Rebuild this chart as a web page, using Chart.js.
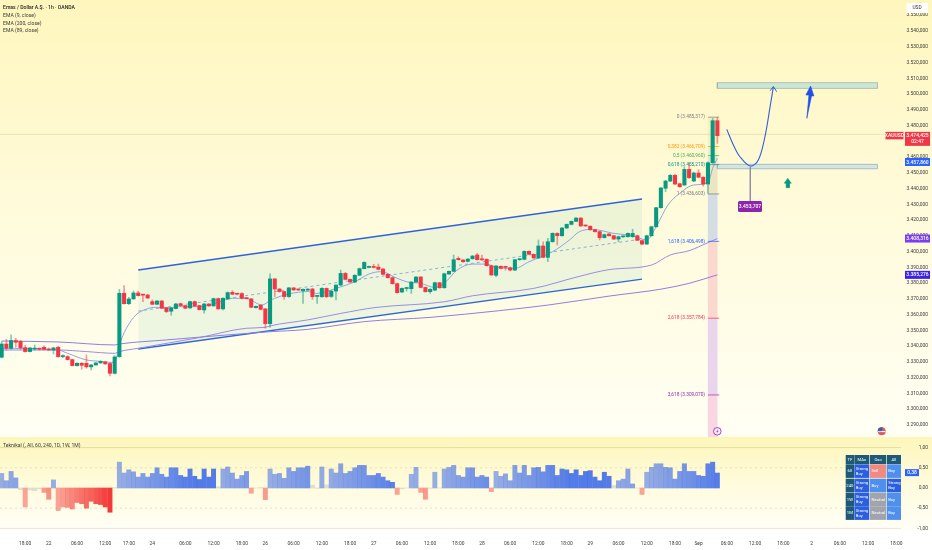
<!DOCTYPE html>
<html>
<head>
<meta charset="utf-8">
<title>Emas / Dollar</title>
<script src="https://cdn.jsdelivr.net/npm/chart.js@4"></script>
<style>
  html, body { margin: 0; padding: 0; background: #fff; }
  canvas { display: block; }
</style>
</head>
<body>
<canvas id="chart" width="932" height="550"></canvas>
<script>
// candles, one hour each
const opens = [
  3333, 3341.4, 3338.7, 3343.6, 3343.1, 3339.1, 3336.6, 3338.2, 3338.3, 3339.3,
  3338.2, 3337.6, 3339.3, 3333.4, 3333.4, 3331.5, 3327.7, 3329.2, 3329.2, 3326.9,
  3328.1, 3329.4, 3330, 3329, 3322.8, 3333.4, 3373.6, 3367, 3370, 3373.8,
  3372.6, 3372.5, 3368.3, 3366.6, 3368.7, 3364.5, 3362.2, 3363.9, 3367, 3365.8,
  3364.3, 3368.3, 3365.8, 3363, 3366.8, 3365.6, 3370.2, 3363.7, 3370, 3374.2,
  3373.2, 3373.4, 3370.4, 3370, 3364.5, 3366, 3363.7, 3354.3, 3382.7, 3376.3,
  3374.7, 3371.5, 3377, 3375.9, 3375.3, 3375.6, 3376.3, 3371.6, 3371.4, 3376.7,
  3371.6, 3375, 3378.8, 3386.2, 3382.4, 3380.7, 3385, 3389.2, 3390, 3390.2,
  3390.2, 3389, 3385.6, 3383.5, 3379.7, 3374.4, 3376.6, 3376.5, 3380.7, 3383.9,
  3377.3, 3374.6, 3375.6, 3380.3, 3377.1, 3385.8, 3387.5, 3395.7, 3394.7, 3393.8,
  3395.5, 3397.9, 3395, 3395.1, 3391.1, 3385, 3390.7, 3390.2, 3389.8, 3388.3,
  3394.9, 3395.1, 3400.2, 3398.3, 3396, 3403.6, 3396.4, 3406.3, 3411.6, 3410.1,
  3415, 3417.3, 3419.2, 3421.3, 3416.5, 3416.1, 3413.9, 3412.7, 3408.9, 3411.2,
  3410.1, 3408, 3409.4, 3409.5, 3409.5, 3410.1, 3407, 3404.8, 3410.1, 3415.8,
  3427.9, 3440.2, 3444.8, 3448.4, 3443.1, 3442.3, 3452.2, 3444.8, 3449.9, 3447.2,
  3442.9, 3456.4, 3483.1
];
const closes = [
  3341.4, 3338.7, 3343.6, 3342.5, 3339.1, 3336.6, 3338.9, 3338.4, 3338.1, 3338,
  3337.6, 3338.9, 3333.4, 3333.9, 3331.5, 3327.7, 3329.2, 3327.9, 3326.9, 3328.1,
  3329.4, 3330.4, 3328.8, 3322.8, 3333.2, 3373.6, 3367, 3370, 3373.8, 3372.1,
  3372.4, 3370.6, 3366.6, 3368.7, 3364.1, 3362, 3364.3, 3366.8, 3365.8, 3364.1,
  3368.3, 3365.6, 3363.2, 3366.8, 3365.6, 3370.2, 3363.7, 3370.4, 3374, 3373,
  3373, 3370.4, 3370.2, 3364.7, 3365.3, 3363.4, 3354.3, 3382.7, 3376.3, 3374.7,
  3371.5, 3377, 3375.7, 3375.7, 3376.1, 3376.1, 3371.4, 3371.8, 3376.7, 3371.4,
  3375, 3378.8, 3386.2, 3382.4, 3380.7, 3385, 3389.2, 3393.2, 3390.3, 3390,
  3388.8, 3385.6, 3383.5, 3379.7, 3374, 3376.7, 3376.8, 3380.7, 3383.9, 3377.3,
  3374.6, 3376.1, 3380.3, 3377.1, 3386, 3387.5, 3394.9, 3394.9, 3393.6, 3395.3,
  3397.2, 3394.9, 3394.8, 3391.1, 3385.2, 3390.9, 3389.4, 3390, 3388.3, 3394.9,
  3395.2, 3400.2, 3398.3, 3396, 3403.6, 3396.4, 3406.3, 3411.6, 3410.1, 3415,
  3417.3, 3419.2, 3421.3, 3416.3, 3416.3, 3413.9, 3412.7, 3408.9, 3410.8, 3410.1,
  3408, 3409.5, 3409.6, 3411.6, 3411.6, 3407.2, 3404.8, 3410.1, 3415.8, 3427.9,
  3440.4, 3444.8, 3448.4, 3442.9, 3441.2, 3452.2, 3446.9, 3449.9, 3447.2, 3442.9,
  3456.4, 3483.1, 3473.6
];
const highs = [
  3342.9, 3344.4, 3347.2, 3345, 3343.6, 3340.6, 3339.3, 3340.8, 3338.9, 3340.2,
  3338.9, 3339.3, 3340, 3334.5, 3334, 3331.8, 3329.4, 3329.5, 3334.5, 3328.5,
  3329.6, 3330.8, 3330.4, 3329.4, 3334, 3376.1, 3378.5, 3371, 3375, 3375,
  3373, 3373, 3369.4, 3369, 3369, 3364.7, 3364.6, 3367.2, 3367.4, 3366,
  3368.6, 3368.7, 3366, 3367, 3367, 3370.5, 3370.6, 3370.8, 3374.4, 3375.3,
  3373.6, 3374, 3370.8, 3370.3, 3365.6, 3366.4, 3364, 3385.9, 3383, 3376.6,
  3375, 3377.4, 3377.3, 3376.2, 3376.4, 3376.6, 3376.8, 3372.3, 3377.2, 3377,
  3375.4, 3379, 3388.3, 3386.8, 3382.6, 3385.4, 3389.6, 3393.6, 3390.8, 3392,
  3392.1, 3389.3, 3386, 3384, 3380, 3377, 3377.5, 3381, 3384.2, 3384.3,
  3377.6, 3376.5, 3380.7, 3380.6, 3386.4, 3387.9, 3397.9, 3396.8, 3395, 3395.6,
  3397.6, 3398.9, 3397.9, 3395.5, 3391.4, 3391.2, 3391, 3390.8, 3390.2, 3395.2,
  3395.6, 3400.5, 3400.6, 3398.6, 3407.4, 3406.3, 3408.4, 3412, 3412, 3415.3,
  3417.6, 3419.5, 3421.6, 3421.6, 3416.8, 3416.4, 3414.2, 3413, 3411.2, 3411.5,
  3410.4, 3409.8, 3410, 3412, 3414.2, 3410.5, 3407.3, 3410.5, 3416.2, 3428.2,
  3440.8, 3445.2, 3449, 3449, 3443.4, 3453.9, 3456.4, 3450.5, 3452, 3447.5,
  3457, 3484.6, 3485.3
];
const lows = [
  3332.6, 3337.6, 3338, 3339.3, 3338, 3336.2, 3336.4, 3337.6, 3337.6, 3337.6,
  3337.4, 3335.1, 3333, 3332.8, 3331.3, 3327.4, 3327.4, 3325.4, 3326, 3325,
  3327.9, 3329.2, 3328.4, 3321.1, 3322.4, 3333, 3366.6, 3366.4, 3369.8, 3371.8,
  3368.3, 3370.2, 3366.4, 3366.4, 3363.9, 3361.3, 3359.6, 3363.7, 3365.4, 3363.7,
  3364, 3365.2, 3362.9, 3360.9, 3365.3, 3365.3, 3363.4, 3363, 3369.8, 3372.6,
  3372.6, 3370, 3370, 3364.4, 3364.2, 3363, 3351.4, 3352, 3371.5, 3374.2,
  3369.8, 3371, 3375.4, 3375.3, 3367.2, 3375.2, 3369.7, 3367.2, 3371, 3370.8,
  3370.9, 3369.3, 3378.4, 3382, 3380.4, 3380.4, 3384.8, 3389, 3389.6, 3389.6,
  3388.4, 3385.2, 3383.2, 3379.3, 3373.6, 3374, 3375, 3373.5, 3380.4, 3377,
  3374.2, 3373.5, 3375.2, 3376.8, 3376.8, 3385.5, 3387.2, 3394.6, 3393.2, 3393.5,
  3395.2, 3394.5, 3394.4, 3390.8, 3384.9, 3384.2, 3389, 3388.3, 3387.8, 3388,
  3394.5, 3394.8, 3398, 3395.7, 3395.6, 3396, 3393.6, 3406, 3404.2, 3409.8,
  3414.7, 3417, 3419, 3416, 3416, 3413.6, 3412.4, 3407.4, 3408.6, 3409.8,
  3407.7, 3406.3, 3409, 3409.2, 3409, 3406.9, 3404.4, 3404.5, 3409.8, 3415.5,
  3427.6, 3438, 3444.4, 3442.5, 3440.8, 3441.9, 3446.5, 3444.4, 3446.9, 3441.5,
  3437, 3456, 3468.7
];

// Teknikal oscillator, one value per candle
const teknikal = [
  .36, .18, .41, .25, -.04, -.47, -.05, -.07, -.02, -.11,
  -.28, .2, -.56, -.47, -.48, -.52, -.36, -.39, -.5, -.33,
  -.39, -.41, -.47, -.6, .01, .64, .37, .45, .4, .27,
  .36, .27, .36, .5, .34, .27, .5, .5, .31, .27,
  .47, .29, .21, .47, .27, .47, .03, .47, .52, .37,
  .22, .31, .41, -.13, 0, .01, -.29, .47, .34, .36,
  .24, .5, .41, .5, .5, .54, .07, -.01, .52, .08,
  .47, .37, .6, .36, .41, .5, .56, .56, .31, .31,
  .36, .27, .18, .14, -.16, -.02, 0, .34, .51, -.11,
  -.28, -.01, .39, 0, .47, .51, .56, .31, .27, .5,
  .5, .27, .31, .27, -.09, .41, .29, .35, .18, .56,
  .37, .56, .31, .5, .51, .4, .56, .56, .31, .47,
  .45, .36, .45, .31, .41, .43, .27, .18, .39, .29,
  .06, .18, .22, .47, .1, 0, -.16, .39, .51, .6,
  .6, .51, .5, .22, .41, .6, .41, .41, .31, .29,
  .6, .64, .37
];

// EMA lines, read at the candle numbers in the matching *Bars array
const ema9Bars = [0, 12, 14, 18, 21, 24, 25, 26.5, 28.5, 30.6, 32.7, 35, 37.7, 42, 45.4, 49, 52, 55.3, 57, 58, 61, 65, 67, 71, 75, 78, 80.5, 84, 86, 89, 92, 94, 96.7, 100, 103, 105, 109, 112, 117, 120.6, 122.7, 125.5, 130, 134, 137, 139, 141.5, 144, 147, 150, 151, 152];
const ema9Vals = [3338.7, 3337.6, 3335.5, 3331.3, 3330.4, 3329.6, 3340.8, 3351.4, 3359.8, 3363.4, 3364.7, 3364.1, 3365.1, 3365.1, 3367.2, 3370.4, 3370.2, 3366.2, 3368.9, 3370.4, 3373.2, 3374.7, 3373.5, 3376.7, 3380.9, 3385.8, 3387.3, 3383.1, 3380.9, 3379.9, 3377.3, 3379.9, 3388.3, 3392.1, 3392.1, 3390, 3389.4, 3393.6, 3400, 3407.4, 3412.7, 3414.1, 3411.6, 3410.1, 3407.4, 3415.8, 3429.6, 3437, 3442.3, 3443.8, 3452.9, 3459.2];
const ema89Bars = [0, 12, 18, 24, 25, 29, 42, 52, 56, 57, 65, 72, 79.5, 94, 100, 113, 122.4, 129, 138, 142, 146, 150, 152];
const ema89Vals = [3337.6, 3337.6, 3336.6, 3335.5, 3336.6, 3338.7, 3345.5, 3351.4, 3352, 3352.9, 3356.7, 3360.8, 3364.6, 3368.2, 3372, 3376.7, 3384.1, 3388.6, 3391.5, 3397.9, 3400.6, 3405.7, 3408.3];
const ema200Bars = [0, 12, 24, 25, 35, 56, 65, 77, 91, 105.5, 116, 129, 140, 146, 152];
const ema200Vals = [3343.3, 3342.7, 3340.8, 3341.4, 3344, 3349, 3350.7, 3355.6, 3358.3, 3362.5, 3366.1, 3371.8, 3376.2, 3379.9, 3385.3];

// fibonacci levels
const fibRatios = ['0', '0,382', '0,5', '0,618', '1', '1,618', '2,618', '3,618'];
const fibPrices = [3485.317, 3466.709, 3460.96, 3455.21, 3436.603, 3406.498, 3357.784, 3309.07];

// drawn channel: both ends of the three lines
const channelBars = [29, 136];
const channelTop = [3388.35, 3433.4];
const channelMid = [3362.3, 3408];
const channelLow = [3338.2, 3382.6];

// projected path and target zones
const pathBars = [154, 155.4, 156.8, 159, 160.7, 162.1, 163.2, 163.9];
const pathVals = [3477.6, 3467.7, 3460.2, 3454.3, 3458.2, 3472.9, 3492, 3504.7];
const zoneBars = [152, 186];
const upperZone = [3503.6, 3507.2];
const lowerZone = [3452.6, 3455.4];
const lastPrice = 3474.425;
const pivotPrice = 3453.707;

// axes
const priceTicks = [3550, 3540, 3530, 3520, 3510, 3500, 3490, 3480, 3470, 3460, 3450, 3440, 3430, 3420, 3410, 3400, 3390, 3380, 3370, 3360, 3350, 3340, 3330, 3320, 3310, 3300, 3290];
const oscTicks = [1, 0.5, 0, -0.5, -1];
const timeBars = [5, 10, 16, 22, 27, 32, 39, 45, 51, 56, 62, 68, 74, 79, 85, 91, 97, 102, 108, 114, 120, 125, 131, 137, 143, 148, 154, 160, 166, 172, 178, 184, 190];
const timeLabels = ['18:00', '22', '06:00', '12:00', '17:00', '24', '06:00', '12:00', '18:00', '26', '06:00', '12:00', '18:00', '27', '06:00', '12:00', '18:00', '28', '06:00', '12:00', '18:00', '29', '06:00', '12:00', '18:00', 'Sep', '06:00', '12:00', '18:00', '2', '06:00', '12:00', '18:00'];

// summary table
const tableHead = ['TF', 'MAs', 'Osc', 'All'];
const tableFrames = ['60', '240', '1W', '1M'];
const tableMas = ['Strong Buy', 'Strong Buy', 'Strong Buy', 'Strong Buy'];
const tableOsc = ['Sell', 'Buy', 'Neutral', 'Neutral'];
const tableAll = ['Buy', 'Strong Buy', 'Buy', 'Buy'];

const legendLines = ['Emas / Dollar A.Ş. · 1h · OANDA', 'EMA (9, close)', 'EMA (200, close)', 'EMA (89, close)'];

const UP = '#089981';
const DOWN = '#f23645';
const FONT = 'Roboto, "Liberation Sans", sans-serif';
const LABEL_SIZE = 4.9;
const LABEL_COLOR = '#3a3a3a';

const fmtPrice = v => {
  const s = v.toFixed(3).replace('.', ',');
  return s.slice(0, 1) + '.' + s.slice(1);
};
const pts = (xs, ys) => xs.map((x, i) => ({ x, y: ys[i] }));
const indexes = opens.map((_, i) => i);

const line = (data, color, width, extra) => Object.assign({
  type: 'line', data, borderColor: color, borderWidth: width, pointRadius: 0,
  tension: 0, fill: false, xAxisID: 'x', yAxisID: 'y', order: 5
}, extra);

const zone = (vals, fill, stroke) => line(
  pts([zoneBars[0], zoneBars[1], zoneBars[1], zoneBars[0], zoneBars[0]], [vals[0], vals[0], vals[1], vals[1], vals[0]]),
  stroke, 0.8, { fill: 'shape', backgroundColor: fill, order: 6 }
);

// fib band, a floating bar between each two levels
const bandTops = [fibPrices[0], fibPrices[1], fibPrices[2], fibPrices[3], fibPrices[4], fibPrices[5], fibPrices[6], fibPrices[7]];
const bandBottoms = [fibPrices[1], fibPrices[2], fibPrices[3], fibPrices[4], fibPrices[5], fibPrices[6], fibPrices[7], 3282.4];
const bandColors = ['#fbeec0', '#eef0c4', '#dcecc8', '#ece4c2', '#d3dde2', '#fad8ce', '#e9d5ec', '#fad5e2'];
const fibColors = ['#808080', '#ff9800', '#4caf50', '#089981', '#787b86', '#2962ff', '#f23645', '#9c27b0'];

// bars deepen the longer the oscillator stays on one side
let runLength = 0;
let runSign = 0;
const oscColors = teknikal.map(v => {
  const a = Math.abs(v);
  if (a < 0.09) {
    runLength = 0;
    return 'rgba(170,170,170,0.35)';
  }
  const sign = v > 0 ? 1 : -1;
  runLength = sign === runSign ? runLength + 1 : 0;
  runSign = sign;
  if (v > 0) return 'rgba(45,95,235,' + Math.min(0.82, 0.5 + runLength * 0.02).toFixed(2) + ')';
  return 'rgba(242,40,40,' + Math.min(0.92, 0.42 + runLength * 0.045).toFixed(2) + ')';
});

const datasets = [
  // fib band
  { type: 'bar', data: bandTops.map((t, i) => ({ x: 151, y: [bandBottoms[i], t] })), backgroundColor: bandColors,
    barThickness: 9, grouped: false, xAxisID: 'x', yAxisID: 'y', order: 9 },
  // channel
  line(pts(channelBars, channelTop), '#2f63d8', 1.4, { fill: { target: 2 }, backgroundColor: 'rgba(80,190,170,0.1)', order: 7 }),
  line(pts(channelBars, channelLow), '#2f63d8', 1.4, { order: 7 }),
  line(pts(channelBars, channelMid), '#7f9bd8', 0.8, { borderDash: [3, 3], order: 7 }),
  // EMAs
  line(pts(ema200Bars, ema200Vals), '#8f7fe0', 1, { cubicInterpolationMode: 'monotone', order: 6 }),
  line(pts(ema89Bars, ema89Vals), '#9a8ce6', 1, { cubicInterpolationMode: 'monotone', order: 6 }),
  line(pts(ema9Bars, ema9Vals), '#7f9ede', 0.9, { cubicInterpolationMode: 'monotone', order: 3 }),
  // last price line
  line(pts([-0.355, 191], [lastPrice, lastPrice]), 'rgba(190,160,90,0.45)', 0.6, { order: 8 }),
  // wicks and bodies
  { type: 'bar', data: indexes.map(i => ({ x: i, y: [lows[i], highs[i]] })),
    backgroundColor: indexes.map(i => (closes[i] >= opens[i] ? 'rgba(8,153,129,0.5)' : 'rgba(242,54,69,0.5)')),
    barThickness: 1, grouped: false, xAxisID: 'x', yAxisID: 'y', order: 2 },
  { type: 'bar', data: indexes.map(i => ({ x: i, y: [opens[i], closes[i]] })),
    backgroundColor: indexes.map(i => (closes[i] >= opens[i] ? UP : DOWN)),
    barThickness: 3.4, minBarLength: 1, grouped: false, xAxisID: 'x', yAxisID: 'y', order: 1 },
  // zones
  zone(upperZone, '#c9e9d6', '#a9aca6'),
  zone(lowerZone, '#cfe9dc', '#a0acc8'),
  // projected path, head and pivot stem
  line(pts(pathBars, pathVals), '#2f63d8', 1.1, { tension: 0.35, order: 0 }),
  line(pts([163.2, 163.9, 164.6], [3502.1, 3504.7, 3501.5]), '#2f63d8', 1, { order: 0 }),
  line(pts([159, 159], [3453.7, 3432.1]), '#8a90a6', 1, { order: 4 }),
  // blue and green arrows
  line(pts([171, 171.45, 170.8, 171.8, 172.5, 172, 171], [3484.6, 3499.4, 3499.4, 3505.1, 3498.8, 3498.8, 3484.6]),
    '#1e53e5', 0.6, { fill: 'shape', backgroundColor: '#1e53e5', order: 0 }),
  line(pts([166.6, 166.2, 166.95, 167.7, 167.3, 167.3, 166.6, 166.6], [3443.4, 3443.4, 3446.5, 3443.4, 3443.4, 3440.6, 3440.6, 3443.4]),
    UP, 0.5, { fill: 'shape', backgroundColor: UP, order: 0 }),
  // oscillator
  line(pts([-0.355, 191], [1, 1]), '#e6dca0', 1, { yAxisID: 'y2', order: 8 }),
  line(pts([-0.355, 191], [-1, -1]), '#f8dfdc', 1, { yAxisID: 'y2', order: 8 }),
  line(pts([-0.355, 191], [0.5, 0.5]), '#e2dca8', 0.8, { yAxisID: 'y2', borderDash: [2, 3], order: 8 }),
  line(pts([-0.355, 191], [-0.5, -0.5]), '#e2dca8', 0.8, { yAxisID: 'y2', borderDash: [2, 3], order: 8 }),
  { type: 'bar', data: indexes.map(i => ({ x: i, y: teknikal[i] })), backgroundColor: oscColors,
    barThickness: 4.3, grouped: false, xAxisID: 'x', yAxisID: 'y2', order: 1 }
];

// short fib lines
fibPrices.forEach((p, i) => {
  datasets.push(line(pts([150, 152.4], [p, p]), fibColors[i], 0.7, { order: 2 }));
});

const paperPlugin = {
  id: 'paper',
  beforeDraw(chart) {
    const c = chart.ctx;
    let g = c.createLinearGradient(0, 0, 0, 437);
    g.addColorStop(0, '#fff6bd');
    g.addColorStop(0.45, '#fffad9');
    g.addColorStop(1, '#fffff4');
    c.fillStyle = g;
    c.fillRect(0, 0, 932, 437);
    g = c.createLinearGradient(0, 437, 0, 530);
    g.addColorStop(0, '#fdf6bb');
    g.addColorStop(0.5, '#fffbdc');
    g.addColorStop(1, '#fffff6');
    c.fillStyle = g;
    c.fillRect(0, 437, 932, 93);
  }
};

const tag = (c, x, y, w, h, color, text, sub) => {
  c.fillStyle = color;
  c.fillRect(x, y, w, h);
  c.fillStyle = '#fff';
  c.textAlign = 'center';
  c.textBaseline = 'middle';
  c.font = '500 5px ' + FONT;
  if (sub) {
    c.fillText(text, x + w / 2, y + 3.8);
    c.fillText(sub, x + w / 2, y + 10);
  } else {
    c.fillText(text, x + w / 2, y + h / 2 + 0.3);
  }
};

const overlayPlugin = {
  id: 'overlay',
  afterDraw(chart) {
    const c = chart.ctx;
    const y = chart.scales.y;
    const y2 = chart.scales.y2;
    c.save();

    // header texts
    c.textAlign = 'left';
    c.textBaseline = 'middle';
    legendLines.forEach((t, i) => {
      c.font = (i === 0 ? '500 ' : '') + '5.1px ' + FONT;
      c.fillStyle = i === 0 ? '#1e1e1e' : LABEL_COLOR;
      c.fillText(t, 3, 7.7 + i * 7.8);
    });
    c.font = '5.1px ' + FONT;
    c.fillStyle = LABEL_COLOR;
    c.fillText('Teknikal (, All, 60, 240, 1D, 1W, 1M)', 3, 445.6);

    // fib labels
    c.textAlign = 'right';
    c.font = '4.8px ' + FONT;
    fibPrices.forEach((p, i) => {
      c.fillStyle = fibColors[i];
      c.fillText(fibRatios[i] + ' (' + fmtPrice(p) + ')', 705, y.getPixelForValue(p));
    });

    // pivot label
    c.fillStyle = '#8e24aa';
    c.beginPath();
    c.roundRect(738, 201, 24, 11, 1.5);
    c.fill();
    tag(c, 740, 202, 20, 9, '#8e24aa', fmtPrice(pivotPrice));

    // price tags on the axis
    c.fillStyle = '#fff';
    c.fillRect(906.5, 3, 21.5, 10);
    c.fillStyle = '#333';
    c.textAlign = 'center';
    c.font = '4.8px ' + FONT;
    c.fillText('USD', 917, 8.2);
    tag(c, 885.5, y.getPixelForValue(lastPrice) - 2.5, 18, 7.5, '#f23645', 'XAUUSD');
    tag(c, 905, y.getPixelForValue(lastPrice) - 2.5, 25, 14, '#f23645', fmtPrice(lastPrice), '02:47');
    tag(c, 905, 158, 25, 8, '#2962ff', fmtPrice(3457.86));
    tag(c, 905, y.getPixelForValue(3408.316) - 4, 25, 8, '#7c3df0', fmtPrice(3408.316));
    tag(c, 905, y.getPixelForValue(3385.276) - 4, 25, 8, '#3a22ee', fmtPrice(3385.276));
    tag(c, 905, y2.getPixelForValue(0.38) - 3.5, 14, 7, '#2962ff', '0,38');

    // event icons
    c.lineWidth = 0.8;
    c.strokeStyle = '#8e24aa';
    c.fillStyle = '#f8e8fb';
    c.beginPath();
    c.arc(717.3, 431.3, 3.8, 0, Math.PI * 2);
    c.fill();
    c.stroke();
    c.fillStyle = '#8e24aa';
    c.beginPath();
    c.moveTo(718.2, 429);
    c.lineTo(716.2, 431.6);
    c.lineTo(717.4, 431.6);
    c.lineTo(716.5, 433.6);
    c.lineTo(718.5, 430.9);
    c.lineTo(717.3, 430.9);
    c.closePath();
    c.fill();
    c.fillStyle = '#e05a5a';
    c.beginPath();
    c.arc(881.7, 431.3, 4, 0, Math.PI * 2);
    c.fill();
    c.fillStyle = '#fff';
    c.fillRect(878, 431, 7.4, 1.1);
    c.fillStyle = '#3c5fb0';
    c.beginPath();
    c.arc(881.7, 431.3, 4, Math.PI, Math.PI * 1.6);
    c.lineTo(881.7, 431.3);
    c.fill();

    // summary table
    const colX = [845.7, 854.3, 870, 886.7];
    const colW = [8.3, 15, 16, 14.3];
    const rowY = [464.3, 478.7, 492.7, 506.3];
    const rowH = 13.6;
    const cellColors = { 'Strong Buy': '#2a5fe0', 'Buy': '#4f8fee', 'Sell': '#ee8c84', 'Neutral': '#a0a4ac' };
    const white = (text, x, yy) => { c.fillStyle = '#fff'; c.fillText(text, x, yy); };
    c.textAlign = 'center';
    c.font = '4.2px ' + FONT;
    tableHead.forEach((t, i) => {
      c.fillStyle = '#1e5a78';
      c.fillRect(colX[i], 455, colW[i], 9);
      white(t, colX[i] + colW[i] / 2, 459.7);
    });
    tableFrames.forEach((t, r) => {
      c.fillStyle = '#1e5a78';
      c.fillRect(colX[0], rowY[r], colW[0], rowH);
      white(t, colX[0] + colW[0] / 2, rowY[r] + rowH / 2);
      [tableMas[r], tableOsc[r], tableAll[r]].forEach((v, k) => {
        c.fillStyle = cellColors[v];
        c.fillRect(colX[k + 1], rowY[r], colW[k + 1], rowH);
        const words = v.split(' ');
        c.textAlign = 'left';
        if (words.length > 1) {
          white(words[0], colX[k + 1] + 1.5, rowY[r] + rowH / 2 - 2.4);
          white(words[1], colX[k + 1] + 1.5, rowY[r] + rowH / 2 + 2.6);
        } else {
          white(v, colX[k + 1] + 1.5, rowY[r] + rowH / 2);
        }
        c.textAlign = 'center';
      });
    });
    c.restore();
  }
};

// no extra room for the outer labels, the panes fill the canvas
const noPadding = s => {
  s.paddingTop = 0;
  s.paddingBottom = 0;
  s.paddingLeft = 0;
  s.paddingRight = 0;
};

new Chart(document.getElementById('chart'), {
  type: 'bar',
  data: { datasets },
  plugins: [paperPlugin, overlayPlugin],
  options: {
    responsive: false,
    animation: false,
    events: [],
    layout: { padding: { left: 0, top: 0, right: 4, bottom: 0 } },
    plugins: { legend: { display: false }, tooltip: { enabled: false } },
    scales: {
      x: {
        type: 'linear',
        min: -0.355,
        max: 191,
        offset: false,
        grid: { display: false },
        border: { display: false },
        afterBuildTicks: s => { s.ticks = timeBars.map(value => ({ value })); },
        afterFit: s => { s.height = 20; noPadding(s); },
        ticks: {
          autoSkip: false,
          maxRotation: 0,
          minRotation: 0,
          padding: 3,
          color: LABEL_COLOR,
          font: { family: FONT, size: LABEL_SIZE },
          callback: v => timeLabels[timeBars.indexOf(v)]
        }
      },
      y: {
        position: 'right',
        stack: 'panes',
        stackWeight: 437,
        min: 3282.4,
        max: 3559.67,
        grid: { display: false },
        border: { display: false },
        afterBuildTicks: s => { s.ticks = priceTicks.map(value => ({ value })); },
        afterFit: s => { s.width = 27; noPadding(s); },
        ticks: {
          autoSkip: false,
          crossAlign: 'far',
          color: LABEL_COLOR,
          font: { family: FONT, size: LABEL_SIZE },
          callback: v => fmtPrice(v)
        }
      },
      y2: {
        position: 'right',
        stack: 'panes',
        stackWeight: 93,
        min: -1.04,
        max: 1.262,
        grid: { display: false },
        border: { display: false },
        afterBuildTicks: s => { s.ticks = oscTicks.map(value => ({ value })); },
        afterFit: s => { s.width = 27; noPadding(s); },
        ticks: {
          autoSkip: false,
          crossAlign: 'far',
          color: LABEL_COLOR,
          font: { family: FONT, size: LABEL_SIZE },
          callback: v => v.toFixed(2).replace('.', ',')
        }
      }
    }
  }
});
</script>
</body>
</html>
